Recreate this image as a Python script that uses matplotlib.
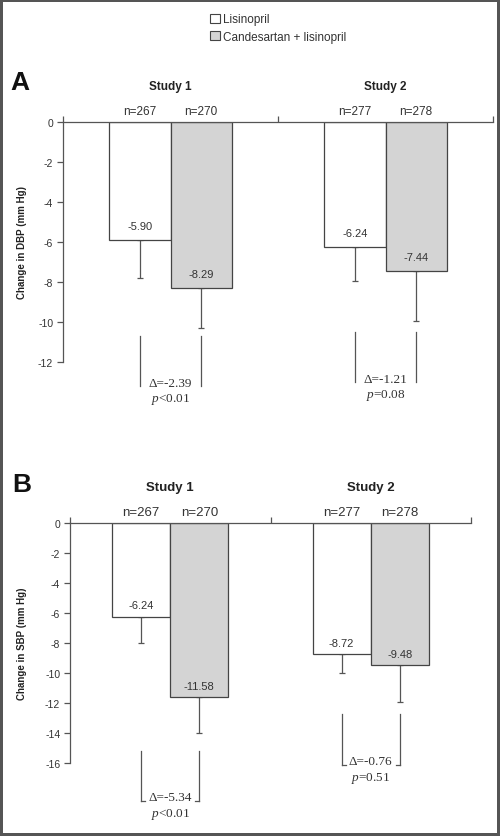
import matplotlib
matplotlib.use("Agg")
import matplotlib.pyplot as plt
from matplotlib.patches import Patch

# ---- data ----
studies = ["Study 1", "Study 2"]
groups = ["Lisinopril", "Candesartan + lisinopril"]
n_lis = [267, 277]
n_cand = [270, 278]

# panel A: diastolic BP
dbp_lis = [-5.90, -6.24]
dbp_cand = [-8.29, -7.44]
dbp_err_lis = [1.9, 1.7]
dbp_err_cand = [2.0, 2.5]
dbp_delta = ["-2.39", "-1.21"]
dbp_p = ["<0.01", "=0.08"]
dbp_bracket_top = [-10.7, -10.5]
dbp_bracket_bot = [-13.2, -13.0]

# panel B: systolic BP
sbp_lis = [-6.24, -8.72]
sbp_cand = [-11.58, -9.48]
sbp_err_lis = [1.76, 1.28]
sbp_err_cand = [2.42, 2.45]
sbp_delta = ["-5.34", "-0.76"]
sbp_p = ["<0.01", "=0.51"]
sbp_bracket_top = [-15.2, -12.7]
sbp_bracket_bot = [-18.5, -16.1]

TXT = "#333333"
LINE = "#555555"
GRAY = "#d4d4d4"

plt.rcParams["font.family"] = ["Liberation Sans", "DejaVu Sans"]
plt.rcParams["axes.unicode_minus"] = False
plt.rcParams["mathtext.fontset"] = "custom"
plt.rcParams["mathtext.it"] = "Liberation Serif:italic"
plt.rcParams["mathtext.rm"] = "Liberation Serif"

fig = plt.figure(figsize=(5.0, 8.37), dpi=100, linewidth=4, edgecolor="#555555")


def draw_panel(ax, lis, cand, err_lis, err_cand, delta, pval, btop, bbot,
               ymin, ylabel, width, fs_n, fs_title, lab_off, hooks):
    x = list(range(len(studies)))
    xl = [i - width / 2 for i in x]
    xc = [i + width / 2 for i in x]
    ax.bar(xl, lis, width, color="white", edgecolor="#444444", linewidth=0.9, zorder=2)
    ax.bar(xc, cand, width, color=GRAY, edgecolor="#444444", linewidth=0.9, zorder=2)
    ax.errorbar(xl, lis, yerr=[err_lis, [0] * len(x)], fmt="none", ecolor="#555555",
                elinewidth=0.9, capsize=2, capthick=0.9, zorder=1)
    ax.errorbar(xc, cand, yerr=[err_cand, [0] * len(x)], fmt="none", ecolor="#555555",
                elinewidth=0.9, capsize=2, capthick=0.9, zorder=1)

    for i in x:
        ax.annotate(f"{lis[i]:.2f}", (xl[i], lis[i]), xytext=(0, lab_off),
                    textcoords="offset points", ha="center", va="center",
                    fontsize=8, color=TXT)
        ax.annotate(f"{cand[i]:.2f}", (xc[i], cand[i]), xytext=(0, lab_off),
                    textcoords="offset points", ha="center", va="center",
                    fontsize=8, color=TXT)
        ax.annotate(f"n={n_lis[i]}", (xl[i], 0), xytext=(0, 8),
                    textcoords="offset points", ha="center", va="center",
                    fontsize=fs_n, color=TXT, annotation_clip=False)
        ax.annotate(f"n={n_cand[i]}", (xc[i], 0), xytext=(0, 8),
                    textcoords="offset points", ha="center", va="center",
                    fontsize=fs_n, color=TXT, annotation_clip=False)
        ax.annotate(studies[i], (i, 0), xytext=(0, 26),
                    textcoords="offset points", ha="center", va="center",
                    fontsize=fs_title, fontweight="bold", color="#222222",
                    annotation_clip=False)

        # comparison bracket
        for xx in (xl[i], xc[i]):
            ax.plot([xx, xx], [btop[i], bbot[i]], color="#555555", lw=0.9,
                    clip_on=False)
        if hooks:
            hk = 0.02
            ax.plot([xl[i], xl[i] + hk], [bbot[i], bbot[i]], color="#555555",
                    lw=0.9, clip_on=False)
            ax.plot([xc[i], xc[i] - hk], [bbot[i], bbot[i]], color="#555555",
                    lw=0.9, clip_on=False)
        ax.text(i, bbot[i], "\u0394=" + delta[i], ha="center", va="baseline",
                fontsize=9.5, family=["Liberation Serif", "DejaVu Serif"],
                color=TXT, clip_on=False)
        ax.annotate("$p$" + pval[i], (i, bbot[i]), xytext=(0, -11),
                    textcoords="offset points", ha="center", va="baseline",
                    fontsize=9.5, family=["Liberation Serif", "DejaVu Serif"],
                    color=TXT, annotation_clip=False)

    ax.set_xlim(-0.5, len(studies) - 0.5)
    ax.set_ylim(ymin, 0)
    ax.set_yticks(range(0, ymin - 1, -2))
    ax.tick_params(axis="y", direction="out", length=4, width=0.9, color=LINE,
                   labelsize=7.5, labelcolor=TXT, pad=3)
    ax.xaxis.tick_top()
    ax.set_xticks([i - 0.5 for i in range(len(studies) + 1)])
    ax.set_xticklabels([])
    ax.tick_params(axis="x", direction="out", length=4, width=0.9, color=LINE)
    for s in ("right", "bottom"):
        ax.spines[s].set_visible(False)
    for s in ("left", "top"):
        ax.spines[s].set_color(LINE)
        ax.spines[s].set_linewidth(0.9)
    ax.set_ylabel(ylabel, fontsize=7, fontweight="bold", color="#222222")


axA = fig.add_axes([63 / 500, (837 - 363) / 837, 430 / 500, 240 / 837])
draw_panel(axA, dbp_lis, dbp_cand, dbp_err_lis, dbp_err_cand, dbp_delta, dbp_p,
           dbp_bracket_top, dbp_bracket_bot, -12, "Change in DBP (mm Hg)",
           0.285, 8.5, 8.5, 10, hooks=False)
axA.yaxis.set_label_coords(27 / 500, (837 - 243) / 837, transform=fig.transFigure)

axB = fig.add_axes([70 / 500, (837 - 764) / 837, 401 / 500, 240 / 837])
draw_panel(axB, sbp_lis, sbp_cand, sbp_err_lis, sbp_err_cand, sbp_delta, sbp_p,
           sbp_bracket_top, sbp_bracket_bot, -16, "Change in SBP (mm Hg)",
           0.29, 9.5, 9.5, 8, hooks=True)
axB.yaxis.set_label_coords(27 / 500, (837 - 644) / 837, transform=fig.transFigure)

fig.text(20 / 500, 1 - 83 / 837, "A", fontsize=19, fontweight="bold",
         ha="center", va="center", color="#111111")
fig.text(22 / 500, 1 - 485 / 837, "B", fontsize=19, fontweight="bold",
         ha="center", va="center", color="#111111")

handles = [Patch(facecolor="white", edgecolor="#444444", linewidth=0.8),
           Patch(facecolor=GRAY, edgecolor="#444444", linewidth=0.8)]
fig.legend(handles, groups, loc="upper left", bbox_to_anchor=(202 / 500, 1 - 6 / 837),
           frameon=False, fontsize=8.5, handlelength=0.8, handleheight=0.8,
           handletextpad=0.3, labelspacing=0.45, labelcolor=TXT, borderpad=0.2)

fig.savefig("out.png", dpi=100)
